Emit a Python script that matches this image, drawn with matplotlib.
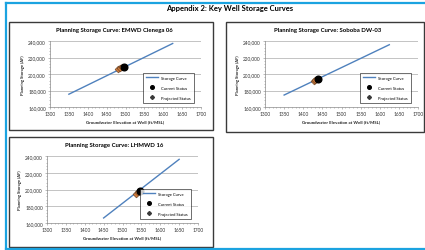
import matplotlib
matplotlib.use("Agg")
import matplotlib.pyplot as plt
from matplotlib.patches import Rectangle
from matplotlib.lines import Line2D
from matplotlib.ticker import FuncFormatter, MultipleLocator

plt.rcParams['font.family'] = ['Lato', 'DejaVu Sans']

# storage curves (elevation ft/MSL, storage AF)
emwd_elev = [1350, 1625]
emwd_storage = [175500, 237000]
emwd_current = (1495, 209000)
emwd_proj_elev = [1481, 1486, 1490]
emwd_proj_storage = [206000, 207000, 208000]

soboba_elev = [1350, 1625]
soboba_storage = [174500, 235500]
soboba_current = (1438, 194500)
soboba_proj_elev = [1427, 1432]
soboba_proj_storage = [191500, 193000]

lhmwd_elev = [1450, 1650]
lhmwd_storage = [166000, 236000]
lhmwd_current = (1547, 198000)
lhmwd_proj_elev = [1537, 1542]
lhmwd_proj_storage = [195000, 196500]

W, H = 425, 251
fig = plt.figure(figsize=(W / 100, H / 100), dpi=100)
fig.patch.set_facecolor('white')

curve_color = '#4f81bd'


def fx(px):
    return px / W


def fy(py):
    return 1 - py / H


# blue frame
blue = '#1ba3e0'
for xs, ys in [([6, 6], [4, 249.5]), ([6, 425], [4, 4]), ([6, 425], [249.5, 249.5])]:
    fig.add_artist(Line2D([fx(v) for v in xs], [fy(v) for v in ys], color=blue, lw=1.6))

fig.text(fx(230), fy(9), "Appendix 2: Key Well Storage Curves", ha='center', va='center',
         fontsize=5.5, fontweight='bold')

legend_handles = [
    Line2D([], [], color=curve_color, lw=1.0, label='Storage Curve'),
    Line2D([], [], ls='none', marker='o', ms=2.6, color='black', label='Current Status'),
    Line2D([], [], ls='none', marker='D', ms=2.0, mfc='#3a3a3a', mec='#3a3a3a',
           label='Projected Status'),
]


def panel(box, ax_px, title, elev, storage, current, pe, ps):
    x0, y0, x1, y1 = box
    fig.add_artist(Rectangle((fx(x0), fy(y1)), fx(x1 - x0), (y1 - y0) / H,
                             transform=fig.transFigure, fill=False, ec='#3a3a3a', lw=1.0))
    l, t, r, b = ax_px
    ax = fig.add_axes([fx(l), fy(b), fx(r - l), (b - t) / H])
    ax.plot(elev, storage, color=curve_color, lw=1.0)
    ax.plot(pe, ps, ls='none', marker='D', ms=3.5, mfc='#d07a3a', mec='#5a3a20', mew=0.4,
            zorder=3)
    ax.plot([current[0]], [current[1]], ls='none', marker='o', ms=4.8, color='black', zorder=4)
    ax.set_xlim(1300, 1700)
    ax.set_ylim(160000, 240000)
    ax.xaxis.set_major_locator(MultipleLocator(50))
    ax.xaxis.set_minor_locator(MultipleLocator(10))
    ax.yaxis.set_major_locator(MultipleLocator(20000))
    ax.yaxis.set_minor_locator(MultipleLocator(4000))
    ax.yaxis.set_major_formatter(FuncFormatter(lambda v, p: f"{int(v):,}"))
    ax.grid(axis='y', color='#ababab', lw=0.5)
    ax.set_axisbelow(True)
    for s in ['top', 'right']:
        ax.spines[s].set_visible(False)
    for s in ['left', 'bottom']:
        ax.spines[s].set_color('#8a8a8a')
        ax.spines[s].set_linewidth(0.5)
    ax.tick_params(which='both', labelsize=3.4, length=1.5, width=0.4, color='#8a8a8a', pad=1.5,
                   labelcolor='#333333')
    ax.tick_params(which='minor', length=1)
    ax.set_xlabel("Groundwater Elevation at Well (ft/MSL)", fontsize=3.2, fontweight='bold',
                  labelpad=2, color='#222222')
    ax.set_ylabel("Planning Storage (AF)", fontsize=3.0, fontweight='bold', labelpad=2,
                  color='#222222')
    leg = ax.legend(handles=legend_handles, loc='lower right', fontsize=3.0, frameon=True,
                    fancybox=False, edgecolor='black', borderpad=0.8, labelspacing=1.4,
                    handlelength=2.8, bbox_to_anchor=(0.97, 0.03))
    leg.get_frame().set_linewidth(0.5)
    fig.text(fx((x0 + x1) / 2 + 3), fy(y0 + 7.5), title, ha='center', va='center',
             fontsize=4.3, fontweight='bold')
    return ax


panel((9, 23, 213, 131), (50, 42, 201, 108), "Planning Storage Curve: EMWD Cienega 06",
      emwd_elev, emwd_storage, emwd_current, emwd_proj_elev, emwd_proj_storage)
panel((226, 23, 424, 133), (265, 42, 418, 108), "Planning Storage Curve: Soboba DW-03",
      soboba_elev, soboba_storage, soboba_current, soboba_proj_elev, soboba_proj_storage)
panel((9, 138, 213, 248), (47, 157, 198, 224), "Planning Storage Curve: LHMWD 16",
      lhmwd_elev, lhmwd_storage, lhmwd_current, lhmwd_proj_elev, lhmwd_proj_storage)

fig.savefig("out.png", dpi=100)
